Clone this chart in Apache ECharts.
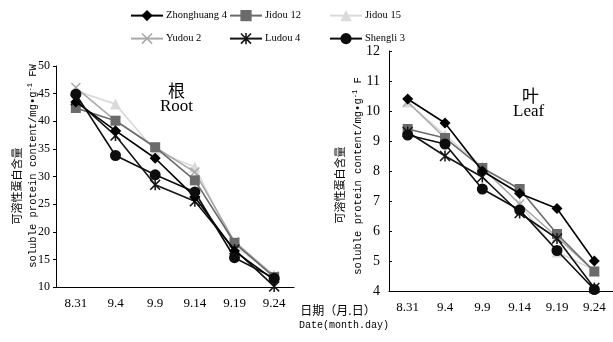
<!DOCTYPE html>
<html>
<head>
<meta charset="utf-8">
<script src="https://cdn.jsdelivr.net/npm/echarts@6/dist/echarts.min.js"></script>
<style>
  html, body { margin: 0; padding: 0; background: #fff; }
  #root { width: 613px; height: 342px; }
</style>
</head>
<body>
<div id="root"></div>
<script>
var dates = ['8.31', '9.4', '9.9', '9.14', '9.19', '9.24']
var names = ['Zhonghuang 4', 'Jidou 12', 'Jidou 15', 'Yudou 2', 'Ludou 4', 'Shengli 3']

// 根 Root
var zhonghuang4Root = [43.5, 38.3, 33.3, 26.3, 16.5, 11.3]
var jidou12Root = [42.4, 40.1, 35.3, 29.3, 18.0, 11.8]
var jidou15Root = [45.5, 43.1, 34.6, 31.7, 17.5, 12.2]
var yudou2Root = [46.1, 40.1, 35.3, 30.8, 18.2, 12.0]
var ludou4Root = [43.8, 37.4, 28.5, 25.5, 16.8, 10.1]
var shengli3Root = [44.9, 33.8, 30.3, 27.2, 15.3, 11.6]

// 叶 Leaf
var zhonghuang4Leaf = [10.4, 9.6, 8.0, 7.25, 6.75, 5.0]
var jidou12Leaf = [9.4, 9.1, 8.1, 7.4, 5.9, 4.65]
var jidou15Leaf = [10.3, 9.2, 8.15, 6.9, 5.3, 4.7]
var yudou2Leaf = [10.3, 9.1, 8.1, 6.9, 5.8, 4.65]
var ludou4Leaf = [9.3, 8.5, 7.8, 6.6, 5.75, 4.1]
var shengli3Leaf = [9.2, 8.9, 7.4, 6.7, 5.35, 4.05]

var xPath = 'path://M0,1L1,0L5,4L9,0L10,1L6,5L10,9L9,10L5,6L1,10L0,9L4,5Z'
var starPath = 'path://M0,1L1,0L5,4L9,0L10,1L6,5L10,9L9,10L5,6L1,10L0,9L4,5Z M4.3,0L5.7,0L5.7,10L4.3,10Z'

var styles = {
  'Zhonghuang 4': { color: '#000000', symbol: 'diamond', size: 11, z: 6 },
  'Jidou 12': { color: '#6b6b6b', symbol: 'rect', size: 10, z: 4 },
  'Jidou 15': { color: '#dadada', symbol: 'triangle', size: 11, z: 2 },
  'Yudou 2': { color: '#a9a9a9', symbol: xPath, size: 10, z: 3 },
  'Ludou 4': { color: '#151515', symbol: starPath, size: 11, z: 5 },
  'Shengli 3': { color: '#0d0d0d', symbol: 'circle', size: 11, z: 7 }
}

var rootData = {
  'Zhonghuang 4': zhonghuang4Root, 'Jidou 12': jidou12Root, 'Jidou 15': jidou15Root,
  'Yudou 2': yudou2Root, 'Ludou 4': ludou4Root, 'Shengli 3': shengli3Root
}
var leafData = {
  'Zhonghuang 4': zhonghuang4Leaf, 'Jidou 12': jidou12Leaf, 'Jidou 15': jidou15Leaf,
  'Yudou 2': yudou2Leaf, 'Ludou 4': ludou4Leaf, 'Shengli 3': shengli3Leaf
}

var serif = 'Liberation Serif'
var mono = 'Liberation Mono'

function makeSeries (name, data, idx) {
  var s = styles[name]
  return {
    name: name,
    type: 'line',
    xAxisIndex: idx,
    yAxisIndex: idx,
    data: data,
    symbol: s.symbol,
    symbolSize: s.size,
    z: s.z,
    animation: false,
    lineStyle: { color: s.color, width: 1.6 },
    itemStyle: { color: s.color }
  }
}

var series = []
names.forEach(function (n) { series.push(makeSeries(n, rootData[n], 0)) })
names.forEach(function (n) { series.push(makeSeries(n, leafData[n], 1)) })

var legendPos = [
  [130, 10], [229, 10], [329, 10],
  [130, 33], [229, 33], [329, 33]
]
var legends = names.map(function (n, i) {
  return {
    data: [n],
    left: legendPos[i][0],
    top: legendPos[i][1],
    padding: 0,
    itemWidth: 32,
    itemHeight: 14,
    itemGap: 0,
    textStyle: { fontFamily: serif, fontSize: 10.5, color: '#000', padding: [0, 0, 0, -2] }
  }
})

function xAxisOf (idx) {
  return {
    type: 'category',
    gridIndex: idx,
    data: dates,
    boundaryGap: true,
    axisLine: { lineStyle: { color: '#000', width: 1 } },
    axisTick: { inside: true, length: 4, lineStyle: { color: '#000' } },
    axisLabel: { color: '#000', fontFamily: serif, fontSize: 13, margin: 10 },
    splitLine: { show: false }
  }
}

var chart = echarts.init(document.getElementById('root'))
chart.setOption({
  backgroundColor: '#fff',
  animation: false,
  legend: legends,
  grid: [
    { left: 56, top: 66, width: 238, height: 221 },
    { left: 389, top: 51, width: 228, height: 240 }
  ],
  xAxis: [xAxisOf(0), xAxisOf(1)],
  yAxis: [
    {
      type: 'value', gridIndex: 0, min: 10, max: 50, interval: 5,
      axisLine: { show: true, lineStyle: { color: '#000' } },
      axisTick: { show: true, length: 3, lineStyle: { color: '#000' } },
      axisLabel: { color: '#000', fontFamily: serif, fontSize: 12, margin: 6 },
      splitLine: { show: false }
    },
    {
      type: 'value', gridIndex: 1, min: 4, max: 12, interval: 1,
      axisLine: { show: true, lineStyle: { color: '#000' } },
      axisTick: { show: true, inside: true, length: 3, lineStyle: { color: '#000' } },
      axisLabel: { color: '#000', fontFamily: serif, fontSize: 14, margin: 9 },
      splitLine: { show: false }
    }
  ],
  series: series,
  graphic: [
    { type: 'text', left: 168, top: 82, style: { text: '根', font: '17px "Noto Sans CJK SC"', fill: '#000' } },
    { type: 'text', left: 160, top: 98, style: { text: 'Root', font: '17px "Liberation Serif"', fill: '#000' } },
    { type: 'text', left: 522, top: 87, style: { text: '叶', font: '17px "Noto Sans CJK SC"', fill: '#000' } },
    { type: 'text', left: 513, top: 103, style: { text: 'Leaf', font: '17px "Liberation Serif"', fill: '#000' } },
    {
      type: 'text', x: 17, y: 186, rotation: Math.PI / 2,
      style: { text: '可溶性蛋白含量', font: '11px "Noto Sans CJK SC"', fill: '#000', align: 'center', verticalAlign: 'middle' }
    },
    {
      type: 'text', x: 33, y: 166, rotation: Math.PI / 2,
      style: {
        text: '{a|soluble protein content/mg•g}{s|-1}{a| FW}',
        align: 'center', verticalAlign: 'middle', fill: '#000',
        rich: {
          a: { fontFamily: mono, fontSize: 10.5, fill: '#000' },
          s: { fontFamily: mono, fontSize: 7, fill: '#000', verticalAlign: 'top', padding: [0, 0, 6, 0] }
        }
      }
    },
    {
      type: 'text', x: 340, y: 185, rotation: Math.PI / 2,
      style: { text: '可溶性蛋白含量', font: '11px "Noto Sans CJK SC"', fill: '#000', align: 'center', verticalAlign: 'middle' }
    },
    {
      type: 'text', x: 358, y: 176, rotation: Math.PI / 2,
      style: {
        text: '{a|soluble protein content/mg•g}{s|-1}{a| F}',
        align: 'center', verticalAlign: 'middle', fill: '#000',
        rich: {
          a: { fontFamily: mono, fontSize: 10.5, fill: '#000' },
          s: { fontFamily: mono, fontSize: 7, fill: '#000', verticalAlign: 'top', padding: [0, 0, 6, 0] }
        }
      }
    },
    {
      type: 'text', x: 338, y: 310,
      style: { text: '日期（月.日）', font: '12px "Noto Sans CJK SC"', fill: '#000', align: 'center', verticalAlign: 'middle' }
    },
    {
      type: 'text', x: 344, y: 325,
      style: { text: 'Date(month.day)', font: '10px "Liberation Mono"', fill: '#000', align: 'center', verticalAlign: 'middle' }
    }
  ]
})
</script>
</body>
</html>
